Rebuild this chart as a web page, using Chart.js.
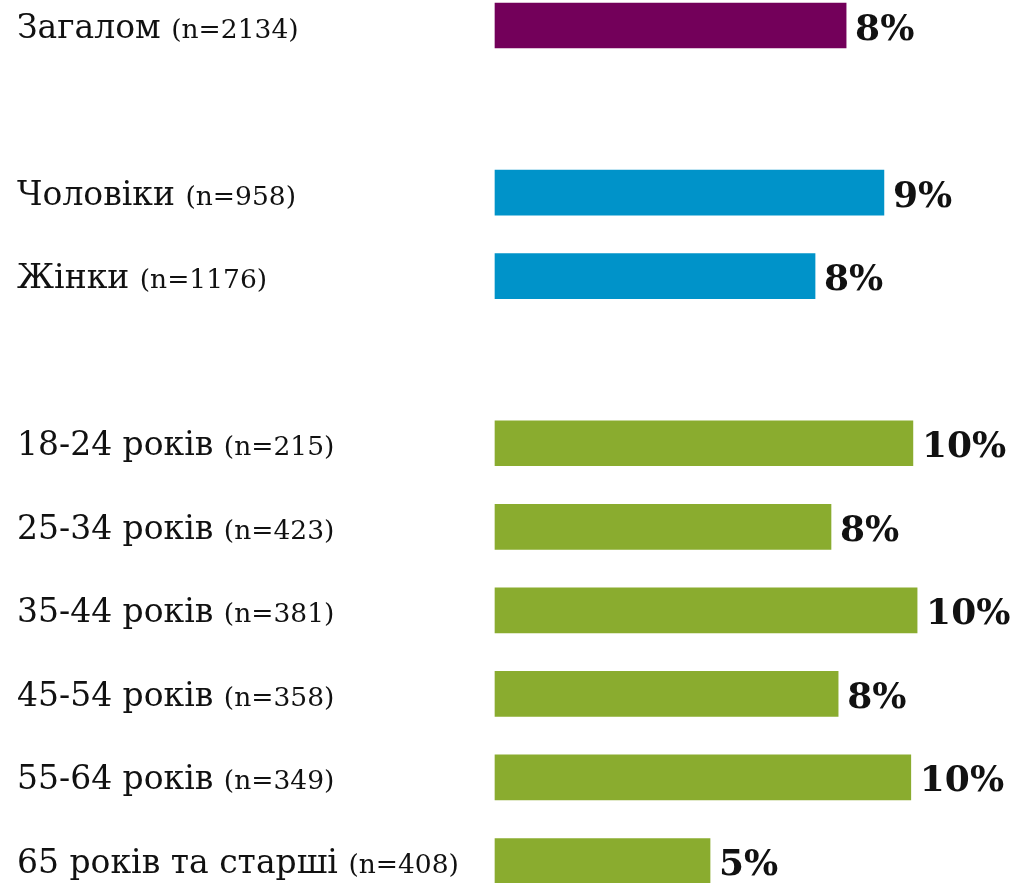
<!DOCTYPE html>
<html lang="uk">

<head>
    <meta charset="UTF-8">
    <meta name="viewport" content="width=device-width, initial-scale=1.0">
    <title>Гістограма</title>
    <style>
        body { margin: 0; background: #fff; }
    </style>
</head>

<body>

    <div style="width: 1017px; height: 883px;">
        <canvas id="myChart"></canvas>
    </div>
    <script src="https://cdn.jsdelivr.net/npm/chart.js"></script>
    <script>
        // рядки графіка (порожні рядки - проміжки між групами)
        const v_labels = ["Загалом", "", "Чоловіки", "Жінки", "",
            "18-24 років", "25-34 років", "35-44 років", "45-54 років", "55-64 років", "65 років та старші"];
        const v_counts = ["(n=2134)", "", "(n=958)", "(n=1176)", "",
            "(n=215)", "(n=423)", "(n=381)", "(n=358)", "(n=349)", "(n=408)"];
        const v_values = [8.36, null, 9.26, 7.62, null, 9.95, 8.0, 10.05, 8.17, 9.9, 5.12];
        const v_colors = ["#73005a", null, "#0093c9", "#0093c9", null,
            "#8aac2f", "#8aac2f", "#8aac2f", "#8aac2f", "#8aac2f", "#8aac2f"];

        const FONT = "'DejaVu Serif', serif";

        // підписи зліва та значення біля стовпчиків
        const labelsPlugin = {
            id: 'labelsPlugin',
            afterDatasetsDraw(chart) {
                const c = chart.ctx;
                const yScale = chart.scales.y;
                const meta = chart.getDatasetMeta(0);
                c.save();
                c.fillStyle = "#111";
                c.textBaseline = "alphabetic";
                for (let i = 0; i < v_labels.length; i++) {
                    if (!v_labels[i]) continue;
                    const y = yScale.getPixelForValue(i);
                    c.textAlign = "left";
                    c.font = "33px " + FONT;
                    c.fillText(v_labels[i], 17, y + 12);
                    const w = c.measureText(v_labels[i] + " ").width;
                    c.font = "26.5px " + FONT;
                    c.fillText(v_counts[i], 17 + w, y + 12);

                    const bar = meta.data[i];
                    c.font = "bold 36px " + FONT;
                    c.fillText(Math.round(v_values[i]) + "%", bar.x + 9, y + 14);
                }
                c.restore();
            }
        };

        const ctx = document.getElementById('myChart');
        let myChart = new Chart(ctx, {
            type: 'bar',
            data: {
                labels: v_labels,
                datasets: [{
                    data: v_values,
                    backgroundColor: v_colors,
                    barThickness: 45,
                    clip: false
                }]
            },
            options: {
                indexAxis: 'y',
                responsive: true,
                maintainAspectRatio: false,
                animation: false,
                layout: {
                    padding: { left: 495, right: 18, top: 25.5, bottom: 22 }
                },
                scales: {
                    x: { display: false, min: 0, max: 12 },
                    y: { display: false, offset: false }
                },
                plugins: {
                    legend: { display: false },
                    tooltip: { enabled: false }
                }
            },
            plugins: [labelsPlugin]
        });
    </script>

</body>

</html>
